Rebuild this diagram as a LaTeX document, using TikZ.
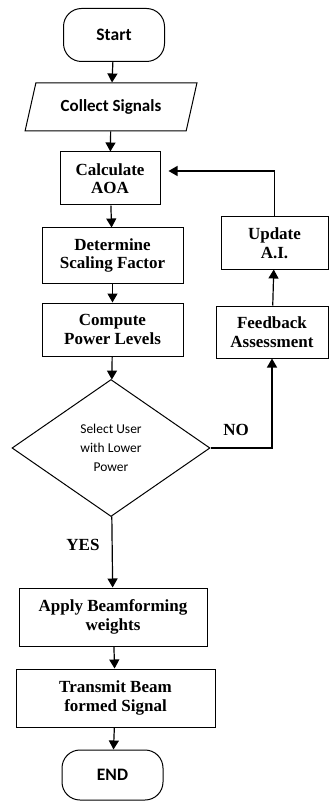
\documentclass[tikz,border=0pt]{standalone}
\usepackage{fontspec}
\setmainfont{Liberation Serif}
\newfontfamily\calibri{Carlito}
\usetikzlibrary{shapes.geometric,arrows.meta}

\tikzset{
  box/.style={draw, line width=1pt, align=center, inner sep=0pt,
    font=\bfseries\fontsize{17}{18.5}\selectfont},
  term/.style={draw, line width=1pt, rounded corners=18pt, inner sep=0pt,
    minimum width=101pt, minimum height=53pt,
    font=\calibri\bfseries\fontsize{17.5}{20}\selectfont},
  io/.style={draw, line width=1pt, trapezium, trapezium left angle=64,
    trapezium right angle=116, trapezium stretches=true, inner sep=0pt,
    minimum width=172pt, minimum height=48pt,
    font=\calibri\bfseries\fontsize{17}{19}\selectfont},
  choice/.style={draw, line width=1pt, diamond, aspect=1.45, inner sep=0pt,
    minimum width=198pt, minimum height=137pt, align=center,
    font=\calibri\fontsize{13.5}{19}\selectfont},
  flow/.style={->, line width=1.2pt},
  answer/.style={font=\bfseries\fontsize{17}{18}\selectfont}
}

\begin{document}
\begin{tikzpicture}[x=1pt, y=-1pt, >={Triangle[length=9pt,width=10pt]}]
    \useasboundingbox (0,0) rectangle (329,802);
    % main column
    \node[term] (start) at (114,35) {Start};
    \node[io] (collect) at (111,107) {Collect Signals};
    \node[box, minimum width=100pt, minimum height=53pt] (aoa) at (110,178.5) {Calculate\\AOA};
    \node[box, minimum width=141pt, minimum height=55pt] (scale) at (112.5,255.5) {Determine\\Scaling Factor};
    \node[box, minimum width=141pt, minimum height=53pt] (power) at (112.5,329.5) {Compute\\Power Levels};
    \node[choice] (select) at (111,448) {Select User\\with Lower\\Power};
    \node[box, minimum width=188pt, minimum height=58pt] (weights) at (113,617) {Apply Beamforming\\weights};
    \node[box, minimum width=199pt, minimum height=58pt] (transmit) at (115.5,698) {Transmit Beam\\formed Signal};
    \node[term, minimum height=50pt] (end) at (112.5,775) {END};
    % feedback column
    \node[box, minimum width=107pt, minimum height=52pt] (update) at (274.5,243) {Update\\A.I.};
    \node[box, minimum width=112pt, minimum height=52pt] (assess) at (272,332) {Feedback\\Assessment};

    \draw[flow] (start) -- (collect);
    \draw[flow] (collect) -- (aoa);
    \draw[flow] (aoa) -- (scale);
    \draw[flow] (scale) -- (power);
    \draw[flow] (power) -- (select);
    \draw[flow] (select) -- (weights);
    \draw[flow] (weights) -- (transmit);
    \draw[flow] (transmit) -- (end);
    \draw[flow] (select.east) -| (assess.south);
    \draw[flow] (assess) -- (update);
    \draw[flow] (update.north) |- ([xshift=8pt,yshift=7.5pt]aoa.east);
    \node[answer] (yes) at (83,545) {YES};
    \node[answer] (no) at (236,430) {NO};
\end{tikzpicture}
\end{document}
